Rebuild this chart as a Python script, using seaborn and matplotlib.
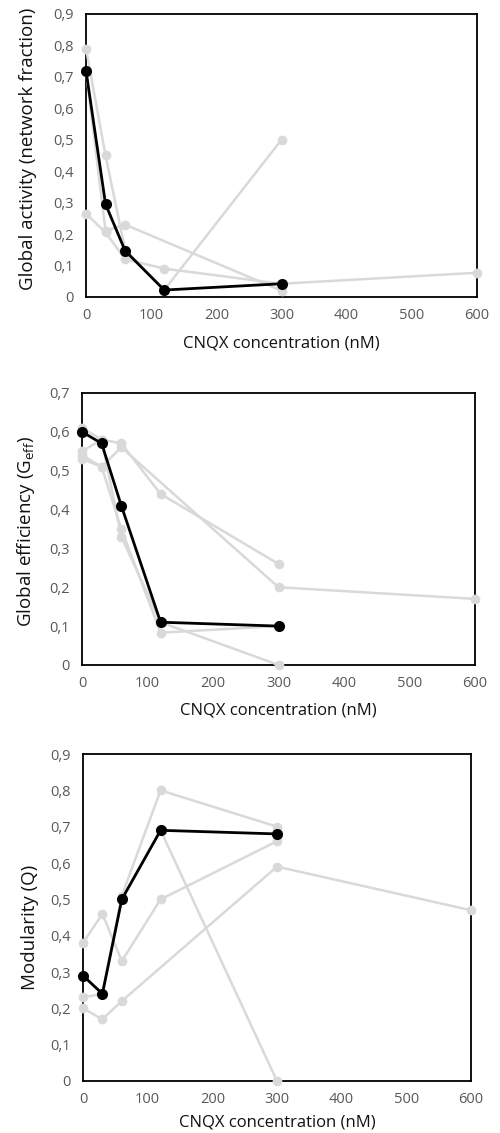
"""Three stacked CNQX dose-response panels: activity, efficiency, modularity."""

import pandas as pd
import matplotlib.pyplot as plt
import seaborn as sns
from matplotlib.ticker import FuncFormatter, MultipleLocator

sns.set_theme(style="white")
plt.rcParams["font.family"] = ["Open Sans", "DejaVu Sans"]

GRAY = "#d9d9d9"
TICK_COLOR = "#595959"

# Global activity (network fraction)
act_conc_a = [0, 30, 60, 120, 300]
act_vals_a = [0.79, 0.45, 0.15, 0.022, 0.50]
act_conc_b = [0, 30, 60, 300]
act_vals_b = [0.72, 0.21, 0.23, 0.02]
act_conc_c = [0, 30, 60, 120, 300, 600]
act_vals_c = [0.265, 0.205, 0.12, 0.09, 0.042, 0.077]
act_conc_mean = [0, 30, 60, 120, 300]
act_vals_mean = [0.72, 0.295, 0.147, 0.022, 0.042]

# Global efficiency
eff_conc_a = [0, 30, 60, 120, 300]
eff_vals_a = [0.55, 0.58, 0.57, 0.44, 0.26]
eff_conc_b = [0, 30, 60, 300, 600]
eff_vals_b = [0.53, 0.51, 0.56, 0.20, 0.17]
eff_conc_c = [0, 30, 60, 120, 300]
eff_vals_c = [0.61, 0.58, 0.33, 0.11, 0.0]
eff_conc_d = [0, 30, 60, 120, 300]
eff_vals_d = [0.54, 0.51, 0.35, 0.083, 0.10]
eff_conc_mean = [0, 30, 60, 120, 300]
eff_vals_mean = [0.60, 0.57, 0.41, 0.11, 0.10]

# Modularity
mod_conc_a = [0, 30, 60, 120, 300]
mod_vals_a = [0.38, 0.46, 0.33, 0.50, 0.66]
mod_conc_b = [0, 30, 60, 300, 600]
mod_vals_b = [0.20, 0.17, 0.22, 0.59, 0.47]
mod_conc_c = [0, 30, 60, 120, 300]
mod_vals_c = [0.23, 0.24, 0.51, 0.80, 0.70]
mod_conc_d = [0, 30, 60, 120, 300]
mod_vals_d = [0.29, 0.24, 0.50, 0.69, 0.0]
mod_conc_mean = [0, 30, 60, 120, 300]
mod_vals_mean = [0.29, 0.24, 0.50, 0.69, 0.68]


def make_frame(series):
    rows = []
    for name, conc, vals in series:
        for c, v in zip(conc, vals):
            rows.append({"serie": name, "conc": c, "valor": v})
    return pd.DataFrame(rows)


def comma(v, pos):
    if abs(v) < 1e-9:
        return "0"
    return f"{v:.1f}".replace(".", ",")


def draw_panel(ax, series, ymax, ylabel, label_xy, xlabelpad):
    df = make_frame(series)
    names = [s[0] for s in series]
    for n in names:
        sub = df[df["serie"] == n]
        is_mean = n == "media"
        sns.lineplot(
            data=sub, x="conc", y="valor", ax=ax,
            color="black" if is_mean else GRAY,
            marker="o", markersize=8 if is_mean else 7, markeredgewidth=0,
            linewidth=2.0 if is_mean else 1.8, sort=False, estimator=None,
            clip_on=False, zorder=4 if is_mean else 3,
        )
    ax.set_xlim(0, 600)
    ax.set_ylim(0, ymax)
    ax.xaxis.set_major_locator(MultipleLocator(100))
    ax.yaxis.set_major_locator(MultipleLocator(0.1))
    ax.yaxis.set_major_formatter(FuncFormatter(comma))
    ax.tick_params(axis="x", length=0, labelsize=10.5, colors=TICK_COLOR, pad=8)
    ax.tick_params(axis="y", length=0, labelsize=10.5, colors=TICK_COLOR, pad=9)
    for s in ax.spines.values():
        s.set_visible(True)
        s.set_color("black")
        s.set_linewidth(1.3)
        s.set_zorder(2)
    ax.set_ylabel(ylabel, fontsize=13.5, color="#111111")
    ax.yaxis.set_label_coords(*label_xy)
    ax.set_xlabel("CNQX concentration (nM)", fontsize=12, color="#111111",
                  labelpad=xlabelpad)


fig = plt.figure(figsize=(5.0, 11.33), dpi=100)
ax1 = fig.add_axes([0.172, 0.7379, 0.782, 0.2498])
ax2 = fig.add_axes([0.164, 0.4131, 0.786, 0.2401])
ax3 = fig.add_axes([0.166, 0.0459, 0.776, 0.2886])

draw_panel(ax1, [
    ("a", act_conc_a, act_vals_a),
    ("b", act_conc_b, act_vals_b),
    ("c", act_conc_c, act_vals_c),
    ("media", act_conc_mean, act_vals_mean),
], 0.9, "Global activity (network fraction)", (-0.125, 0.525), 9)

draw_panel(ax2, [
    ("a", eff_conc_a, eff_vals_a),
    ("b", eff_conc_b, eff_vals_b),
    ("c", eff_conc_c, eff_vals_c),
    ("d", eff_conc_d, eff_vals_d),
    ("media", eff_conc_mean, eff_vals_mean),
], 0.7, r"Global efficiency (G$_\mathregular{eff}$)", (-0.115, 0.49), 8)

draw_panel(ax3, [
    ("a", mod_conc_a, mod_vals_a),
    ("b", mod_conc_b, mod_vals_b),
    ("c", mod_conc_c, mod_vals_c),
    ("d", mod_conc_d, mod_vals_d),
    ("media", mod_conc_mean, mod_vals_mean),
], 0.9, "Modularity (Q)", (-0.113, 0.47), 5)

fig.savefig("out.png", dpi=100, facecolor="white")
